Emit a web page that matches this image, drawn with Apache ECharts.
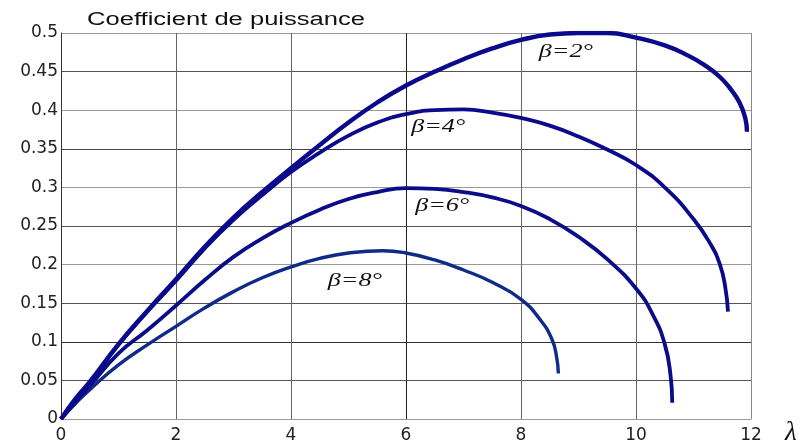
<!DOCTYPE html>
<html>
<head>
<meta charset="utf-8">
<script src="https://cdn.jsdelivr.net/npm/echarts@6/dist/echarts.min.js"></script>
<style>
  html, body { margin: 0; padding: 0; background: #fff; }
  #chart { width: 802px; height: 447px; }
</style>
</head>
<body>
<div id="chart"></div>
<script>
// Tick labels
const lambdaTicks = ['0', '2', '4', '6', '8', '10', '12'];
const cpTicks = ['0', '0.05', '0.1', '0.15', '0.2', '0.25', '0.3', '0.35', '0.4', '0.45', '0.5'];

// Power coefficient Cp(λ) for each pitch angle β, as [λ, Cp] pairs
const beta2 = [[0,0],[0.25,0.026],[0.5,0.048],[1,0.097],[1.5,0.14],[2,0.181],[2.5,0.223],[3,0.261],[3.5,0.294],[4,0.325],[4.5,0.355],[5,0.384],[5.5,0.41],[6,0.432],[6.5,0.45],[7,0.466],[7.5,0.48],[8,0.491],[8.5,0.498],[9,0.5],[9.5,0.5],[10,0.494],[10.5,0.484],[10.9,0.471],[11.2,0.458],[11.46,0.443],[11.65,0.427],[11.8,0.41],[11.9,0.39],[11.93,0.372]];
const beta4 = [[0,0],[0.25,0.025],[0.5,0.047],[1,0.096],[1.5,0.139],[2,0.179],[2.5,0.221],[3,0.258],[3.5,0.29],[4,0.32],[4.5,0.345],[5,0.367],[5.5,0.384],[6,0.395],[6.5,0.4],[7,0.401],[7.5,0.397],[8,0.39],[8.5,0.38],[9,0.366],[9.5,0.349],[10,0.329],[10.5,0.3],[11,0.259],[11.3,0.226],[11.46,0.2],[11.55,0.172],[11.6,0.139]];
const beta6 = [[0,0],[0.25,0.022],[0.5,0.043],[1,0.085],[1.5,0.115],[2,0.147],[2.5,0.18],[3,0.21],[3.5,0.234],[4,0.254],[4.5,0.271],[5,0.285],[5.5,0.294],[6,0.299],[6.5,0.298],[7,0.294],[7.5,0.287],[8,0.276],[8.5,0.259],[9,0.236],[9.5,0.207],[10,0.169],[10.3,0.134],[10.5,0.097],[10.6,0.057],[10.63,0.021]];
const beta8 = [[0,0],[0.25,0.02],[0.5,0.038],[1,0.07],[1.5,0.096],[2,0.12],[2.5,0.144],[3,0.165],[3.5,0.183],[4,0.197],[4.5,0.208],[5,0.215],[5.6,0.218],[6,0.215],[6.5,0.206],[7,0.193],[7.5,0.177],[8,0.155],[8.33,0.129],[8.54,0.103],[8.62,0.08],[8.65,0.059]];

const curveNames = ['β=2°', 'β=4°', 'β=6°', 'β=8°'];
const curveData = [beta2, beta4, beta6, beta8];

// Where each curve's name is written, in chart units [λ, Cp]
const curveLabelAt = [[8.78, 0.475], [6.56, 0.378], [6.63, 0.276], [5.11, 0.179]];

const lineColors = ['#0a0a8a', '#0a0a8a', '#0a0c88', '#102a88'];
const lineWidths = [4.4, 3.8, 3.8, 3.4];

const chart = echarts.init(document.getElementById('chart'), null, { renderer: 'canvas' });

const hGridColors = ['#888', '#555', '#333', '#555', '#999', '#555', '#999', '#444', '#999', '#555', '#999'];

chart.setOption({
  animation: false,
  backgroundColor: '#fff',
  grid: { left: 61, right: 51, top: 33, bottom: 28, containLabel: false },
  xAxis: {
    type: 'value', min: 0, max: 12, interval: 2,
    name: 'λ', nameLocation: 'end', nameGap: 34,
    nameTextStyle: { fontFamily: 'Liberation Serif', fontStyle: 'italic', fontSize: 27, color: '#111', verticalAlign: 'top' },
    axisLine: { show: true, lineStyle: { color: '#999', width: 1 } },
    axisTick: { show: false },
    axisLabel: {
      margin: 8, fontFamily: 'DejaVu Sans', fontSize: 17, color: '#222',
      formatter: (v) => lambdaTicks[Math.round(v / 2)]
    },
    splitLine: { show: true, lineStyle: { color: ['#777', '#666', '#666', '#222', '#666', '#666', '#888'], width: 1 } }
  },
  yAxis: {
    type: 'value', min: 0, max: 0.5, interval: 0.05,
    axisLine: { show: true, lineStyle: { color: '#333', width: 1 } },
    axisTick: { show: false },
    axisLabel: {
      margin: 3, fontFamily: 'DejaVu Sans', fontSize: 17, color: '#222',
      formatter: (v) => cpTicks[Math.round(v / 0.05)]
    },
    splitLine: { show: true, lineStyle: { color: hGridColors, width: 1 } }
  },
  series: curveData.map((d, i) => ({
    name: curveNames[i],
    type: 'line',
    data: d,
    smooth: 0.5,
    showSymbol: false,
    symbol: 'none',
    lineStyle: { color: lineColors[i], width: lineWidths[i], cap: 'butt', join: 'round' },
    z: 5 - i
  }))
});

// Title and curve names, placed through the grid's coordinate system
const graphics = [{
  type: 'text',
  x: 87, y: 20,
  scaleX: 1.42,
  style: { text: 'Coefficient de puissance', font: '18px "Liberation Sans"', fill: '#111', textVerticalAlign: 'middle' },
  z: 10
}];
curveLabelAt.forEach((pos, i) => {
  const p = chart.convertToPixel({ gridIndex: 0 }, pos);
  graphics.push({
    type: 'text',
    x: p[0], y: p[1],
    scaleX: 1.45,
    style: {
      text: curveNames[i],
      font: 'italic 18px "Liberation Serif"',
      fill: '#111',
      textAlign: 'center',
      textVerticalAlign: 'middle'
    },
    z: 10
  });
});
chart.setOption({ graphic: graphics });
</script>
</body>
</html>
